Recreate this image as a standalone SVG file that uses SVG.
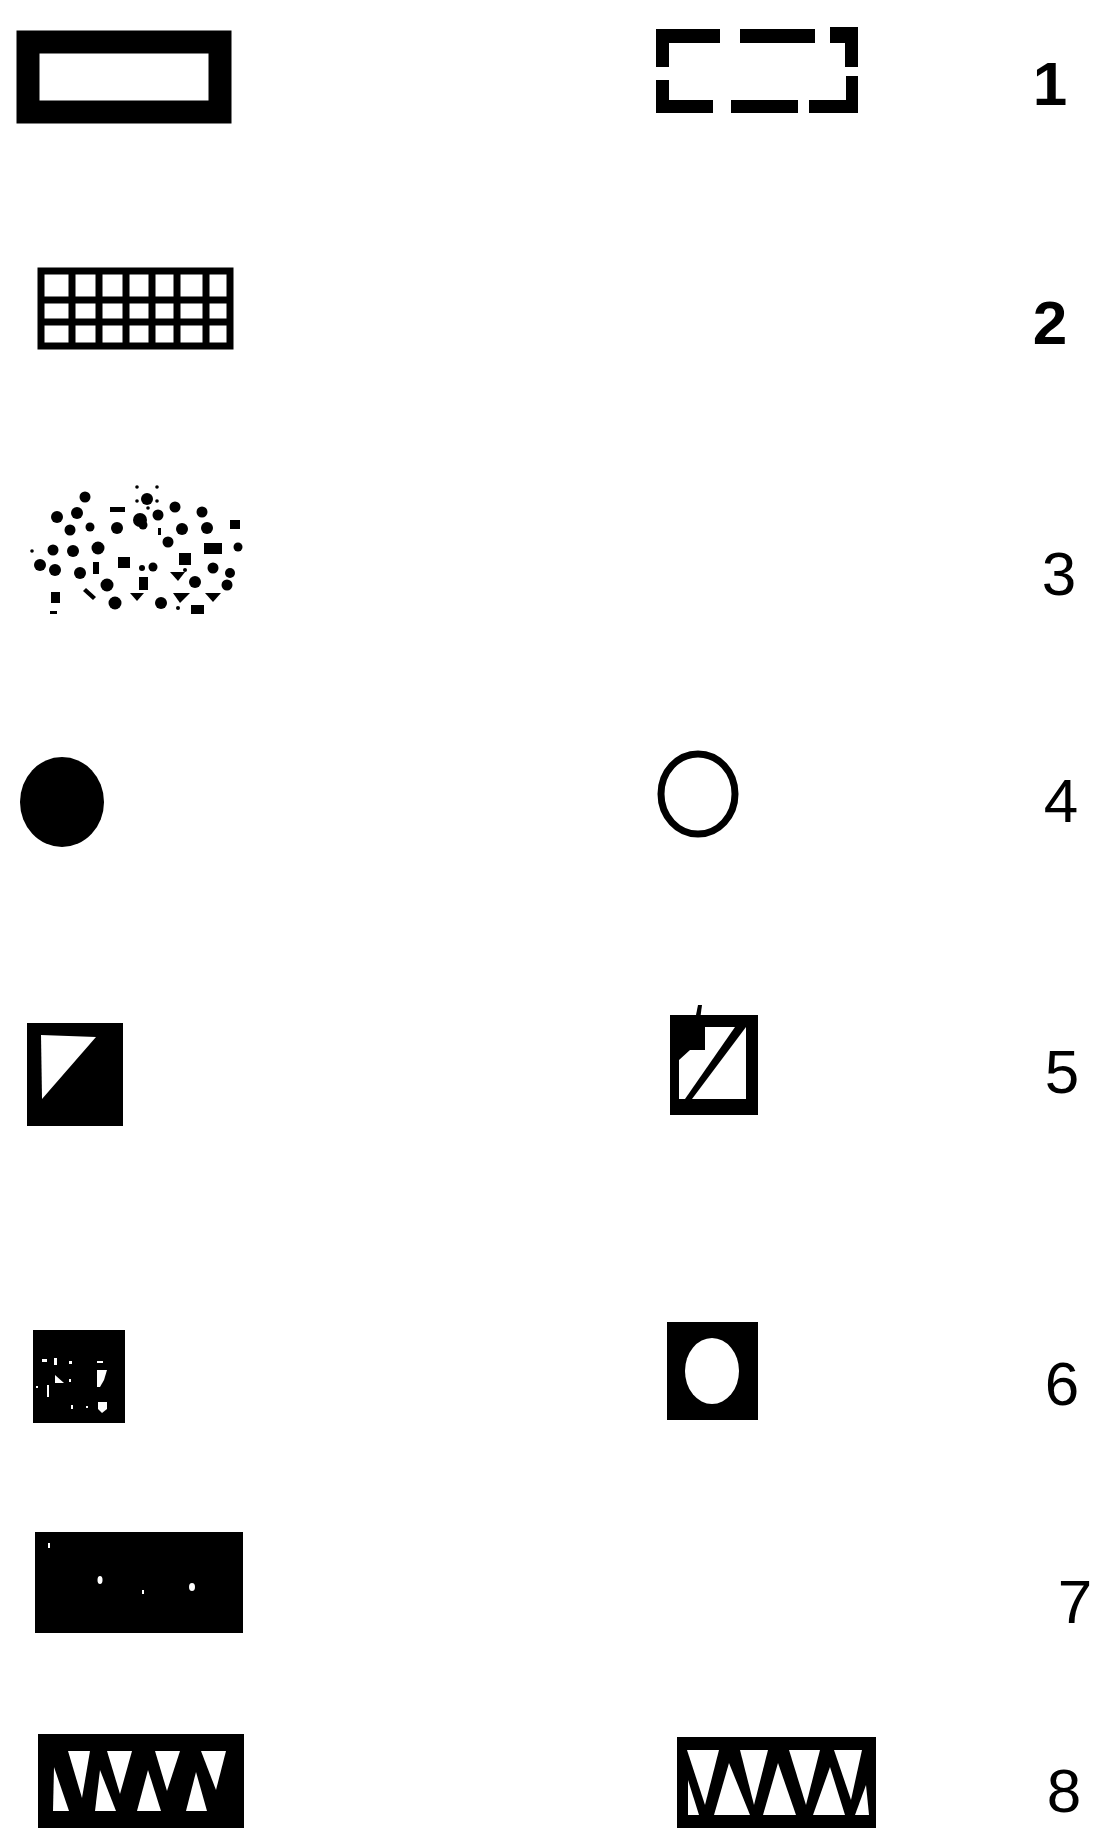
<svg xmlns="http://www.w3.org/2000/svg" width="1094" height="1828" viewBox="0 0 1094 1828">
<style>
.k{fill:#000}
.w{fill:#fff}
.num{font-family:"Liberation Sans",Arial,sans-serif;font-size:62px;fill:#000;text-anchor:middle}
.b{font-weight:bold}
.dot{fill:#000}
</style>
<rect width="1094" height="1828" fill="#fff"/>

<g id="row1-solid">
<rect x="28" y="42" width="192" height="70" fill="none" stroke="#000" stroke-width="23"/>
</g>
<g id="row1-dashed" class="k">
<rect x="656" y="29" width="64" height="14"/>
<rect x="740" y="29" width="75" height="14"/>
<rect x="830" y="27" width="28" height="16"/>
<rect x="656" y="29" width="13" height="38"/>
<rect x="656" y="80" width="13" height="33"/>
<rect x="845" y="27" width="13" height="40"/>
<rect x="846" y="76" width="12" height="37"/>
<rect x="656" y="100" width="57" height="13"/>
<rect x="731" y="100" width="67" height="13"/>
<rect x="809" y="100" width="49" height="13"/>
</g>
<text class="num b" x="1050" y="105" font-size="66">1</text>

<g id="row2-grid" fill="none" stroke="#000" stroke-width="7">
<rect x="41" y="271" width="189" height="75"/>
<path d="M72 271V346M99 271V346M126 271V346M152 271V346M177 271V346M206 271V346M41 300H230M41 322H230"/>
</g>
<text class="num b" x="1050" y="344">2</text>

<g id="row3-stipple" class="dot">
<circle cx="85" cy="497" r="5.5"/><circle cx="147" cy="499" r="6"/><circle cx="137" cy="487" r="1.8"/><circle cx="157" cy="487" r="1.8"/><circle cx="137" cy="501" r="1.8"/><circle cx="157" cy="501" r="1.8"/><circle cx="148" cy="508" r="1.8"/>
<circle cx="57" cy="517" r="6"/><circle cx="77" cy="513" r="6"/><rect x="110" y="507" width="15" height="5"/><circle cx="140" cy="520" r="7"/><circle cx="158" cy="515" r="5.5"/><circle cx="175" cy="507" r="5.5"/><circle cx="202" cy="512" r="5.5"/>
<circle cx="70" cy="530" r="5.5"/><circle cx="90" cy="527" r="4.5"/><circle cx="117" cy="528" r="6"/><circle cx="143" cy="525" r="4.5"/><rect x="158" y="528" width="3" height="7"/><circle cx="182" cy="529" r="6"/><circle cx="207" cy="528" r="6"/><rect x="230" y="520" width="10" height="9"/>
<circle cx="168" cy="542" r="5.5"/><circle cx="98" cy="548" r="6.5"/><circle cx="53" cy="550" r="5.5"/><circle cx="73" cy="551" r="6"/><circle cx="32" cy="551" r="1.8"/><rect x="204" y="543" width="18" height="11"/><circle cx="238" cy="547" r="4.5"/>
<circle cx="40" cy="565" r="6"/><circle cx="55" cy="570" r="6"/><circle cx="80" cy="573" r="6"/><rect x="93" y="562" width="6" height="12"/><rect x="118" y="557" width="12" height="11"/><circle cx="142" cy="568" r="3"/><circle cx="153" cy="567" r="4.5"/><rect x="179" y="553" width="12" height="12"/><path d="M170 572H185L178 581Z"/><circle cx="185" cy="570" r="2"/><circle cx="195" cy="582" r="6"/><circle cx="213" cy="568" r="5.5"/><circle cx="230" cy="573" r="5"/>
<circle cx="107" cy="585" r="6.5"/><rect x="139" y="577" width="9" height="13"/><circle cx="227" cy="585" r="5.5"/><path d="M86 588L96 597L93 600L83 591Z"/><rect x="51" y="592" width="9" height="11"/><circle cx="115" cy="603" r="6.5"/><path d="M130 593H144L137 601Z"/><circle cx="161" cy="603" r="6"/><path d="M173 593H190L180 603Z"/><path d="M205 593H221L213 602Z"/><rect x="191" y="605" width="13" height="9"/><circle cx="178" cy="608" r="2"/><rect x="50" y="611" width="7" height="3"/>
</g>
<text class="num" x="1059" y="595">3</text>

<g id="row4-filled"><ellipse cx="62" cy="802" rx="42" ry="45" class="k"/></g>
<g id="row4-open"><ellipse cx="698" cy="794" rx="37" ry="40" fill="none" stroke="#000" stroke-width="7"/></g>
<text class="num" x="1061" y="822">4</text>

<g id="row5-half">
<rect x="27" y="1023" width="96" height="103" class="k"/>
<path d="M41 1035L96 1037L42 1099Z" class="w"/>
</g>
<g id="row5-diag">
<rect x="670" y="1015" width="88" height="100" class="k"/>
<rect x="679" y="1027" width="67" height="72" class="w"/>
<path d="M679 1027H705V1050H690L679 1060Z" class="k"/>
<path d="M685 1099L735 1027H746L692 1099Z" class="k"/>
<path d="M695 1020L698 1005H702L700 1020Z" class="k"/>
</g>
<text class="num" x="1062" y="1093">5</text>

<g id="row6-speckled">
<rect x="33" y="1330" width="92" height="93" class="k"/>
<g class="w">
<rect x="42" y="1359" width="5" height="3"/><rect x="54" y="1358" width="3" height="7"/><rect x="69" y="1361" width="3" height="3"/><rect x="97" y="1361" width="6" height="2"/>
<path d="M55 1375L64 1383H55Z"/><rect x="69" y="1379" width="2" height="3"/><path d="M97 1370H107L104 1380L100 1387H97Z"/>
<rect x="47" y="1385" width="2" height="12"/><rect x="36" y="1386" width="2" height="2"/><rect x="71" y="1405" width="2" height="4"/><rect x="86" y="1406" width="2" height="2"/><path d="M98 1402H107V1409L102 1413L98 1409Z"/>
</g>
</g>
<g id="row6-ring">
<rect x="667" y="1322" width="91" height="98" class="k"/>
<ellipse cx="712" cy="1371" rx="27" ry="33" class="w"/>
</g>
<text class="num" x="1062" y="1405">6</text>

<g id="row7-solid">
<rect x="35" y="1532" width="208" height="101" class="k"/>
<g class="w">
<rect x="48" y="1543" width="2" height="5"/><ellipse cx="100" cy="1580" rx="2.5" ry="4"/><rect x="142" y="1590" width="2" height="4"/><ellipse cx="192" cy="1587" rx="3" ry="4"/>
</g>
</g>
<text class="num" x="1075" y="1623">7</text>

<g id="row8-heavy">
<rect x="38" y="1734" width="206" height="94" class="k"/>
<g class="w">
<path d="M54 1767L69 1811H53Z"/>
<path d="M100 1770L116 1811H95Z"/>
<path d="M148 1770L161 1811H137Z"/>
<path d="M196 1772L207 1811H186Z"/>
<path d="M68 1751H90L82 1798Z"/>
<path d="M107 1751H132L120 1794Z"/>
<path d="M155 1751H180L167 1791Z"/>
<path d="M201 1751H226L216 1790Z"/>
</g>
</g>
<g id="row8-light">
<rect x="677" y="1737" width="199" height="91" class="k"/>
<g class="w">
<path d="M687 1750H719L705 1805Z"/>
<path d="M740 1750H768L754 1805Z"/>
<path d="M789 1750H820L806 1805Z"/>
<path d="M834 1750H862L851 1800Z"/>
<path d="M688 1780L699 1815H688Z"/>
<path d="M729 1763L750 1815H714Z"/>
<path d="M778 1763L796 1815H763Z"/>
<path d="M830 1767L845 1815H813Z"/>
<path d="M866 1785L869 1815H855Z"/>
</g>
</g>
<text class="num" x="1064" y="1812" font-size="60">8</text>
</svg>
